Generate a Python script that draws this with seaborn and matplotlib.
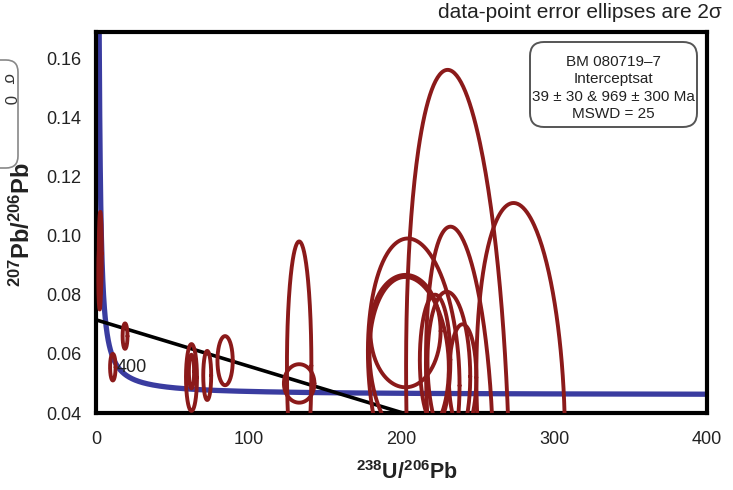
import numpy as np
import pandas as pd
import seaborn as sns
import matplotlib
matplotlib.use("Agg")
import matplotlib.pyplot as plt
from matplotlib.patches import FancyBboxPatch
from matplotlib.ticker import MultipleLocator

# ---------------- data ----------------
# error ellipses (2 sigma): centre, half-axes, correlation
ell_x   = [2.8, 2.4, 11.0, 19.0, 62.5, 62.5, 72.8, 84.5, 133, 133,
           237, 278, 238, 208, 202.6, 205, 231, 222, 240]
ell_y   = [0.094, 0.086, 0.0555, 0.0660, 0.0520, 0.0540, 0.0527, 0.0577, 0.056, 0.050,
           0.030, 0.042, 0.040, 0.055, 0.0677, 0.058, 0.055, 0.058, 0.052]
ell_sx  = [1.0, 0.9, 1.8, 1.6, 3.6, 1.7, 2.6, 5.0, 8, 10,
           34, 29, 22, 30, 23, 26, 14, 10, 9]
ell_sy  = [0.014, 0.011, 0.0045, 0.0043, 0.0113, 0.0057, 0.0083, 0.0083, 0.042, 0.0065,
           0.126, 0.069, 0.063, 0.044, 0.019, 0.028, 0.026, 0.022, 0.018]
ell_rho = [0, 0, 0, 0, 0, 0, 0, 0, 0, 0,
           -0.2, -0.16, -0.27, -0.13, 0, -0.1, -0.1, 0, 0]

# discordia (regression line) end points
disc_x = [0, 201]
disc_y = [0.0715, 0.040]

# concordia: decay constants and ages (Ma)
lam238 = 1.55125e-10
lam235 = 9.8485e-10
u_ratio = 137.88
conc_age_ma = np.geomspace(10, 3500, 600)

x_ticks = [0, 100, 200, 300, 400]
y_ticks = [0.04, 0.06, 0.08, 0.10, 0.12, 0.14, 0.16]

# ---------------- style ----------------
sns.set_style("white")
plt.rcParams['font.family'] = ['Liberation Sans', 'DejaVu Sans']
plt.rcParams['mathtext.fontset'] = 'custom'
plt.rcParams['mathtext.rm'] = 'Liberation Sans'
plt.rcParams['mathtext.bf'] = 'Liberation Sans:bold'

fig = plt.figure(figsize=(7.33, 4.90), dpi=100)
ax = fig.add_axes([0.131, 0.1571, 0.8335, 0.7776])

# concordia
t = conc_age_ma * 1e6
cx = 1.0 / (np.exp(lam238 * t) - 1)
cy = (np.exp(lam235 * t) - 1) / (np.exp(lam238 * t) - 1) / u_ratio
conc = pd.DataFrame({"x": cx, "y": cy})
sns.lineplot(data=conc, x="x", y="y", sort=False, ax=ax, color="#3a3ca0",
             linewidth=3.8, zorder=2, estimator=None)

# discordia
sns.lineplot(x=disc_x, y=disc_y, ax=ax, color="black", linewidth=2.6,
             zorder=3, estimator=None)

# ellipses
tt = np.linspace(0, 2 * np.pi, 300)
for x0, y0, sx, sy, r in zip(ell_x, ell_y, ell_sx, ell_sy, ell_rho):
    ex = x0 + sx * np.cos(tt)
    ey = y0 + sy * (r * np.cos(tt) + np.sqrt(1 - r ** 2) * np.sin(tt))
    ax.plot(ex, ey, color="#8b1a1a", linewidth=2.8, zorder=4)

ax.text(13.8, 0.0553, "400", fontsize=13, va="center", ha="left", color="#222222", zorder=5)

ax.set_xlim(0, 400)
ax.set_ylim(0.04, 0.1688)
ax.set_xticks(x_ticks)
ax.set_yticks(y_ticks)
ax.set_xticklabels([str(v) for v in x_ticks])
ax.set_yticklabels([f"{v:.2f}" for v in y_ticks])
ax.xaxis.set_minor_locator(MultipleLocator(50))
ax.yaxis.set_minor_locator(MultipleLocator(0.01))
ax.tick_params(which="both", direction="in", length=4, width=1.5, color="black",
               labelsize=13, labelcolor="#222222")
ax.tick_params(axis="x", which="major", pad=13)
ax.tick_params(axis="y", which="major", pad=10.5)
ax.set_xlabel("")
ax.set_ylabel("")
for s in ax.spines.values():
    s.set_linewidth(3)
    s.set_color("black")

# axis labels
fig.text(407 / 733, 1 - 473 / 490, r"$\mathbf{^{238}U/^{206}Pb}$", fontsize=15.5,
         ha="center", va="center", color="#222222")
fig.text(22 / 733, 1 - 225 / 490, r"$\mathbf{^{207}Pb/^{206}Pb}$", fontsize=17,
         ha="center", va="center", rotation=90, color="#222222")

# title
fig.text(722 / 733, 1 - 13 / 490, "data-point error ellipses are 2σ", fontsize=15,
         ha="right", va="center", color="#222222")

# info box
box = FancyBboxPatch((5.30, 3.63), 1.67, 0.85, boxstyle="round,pad=0,rounding_size=0.14",
                     transform=fig.dpi_scale_trans, facecolor="white", edgecolor="#555555",
                     linewidth=1.4, zorder=10)
fig.patches.append(box)
fig.text(613 / 733, 1 - 88 / 490,
         "BM 080719–7\nInterceptsat\n39 ± 30 & 969 ± 300 Ma\nMSWD = 25",
         fontsize=11, ha="center", va="center", color="#222222", linespacing=1.3, zorder=11)

# fragment of neighbouring panel box at far left
box2 = FancyBboxPatch((-0.6, 3.22), 0.78, 1.08, boxstyle="round,pad=0,rounding_size=0.12",
                      transform=fig.dpi_scale_trans, facecolor="white", edgecolor="#888888",
                      linewidth=1.2, zorder=1)
fig.patches.append(box2)
fig.text(8 / 733, 1 - 78 / 490, "σ", fontsize=12, rotation=270, ha="center", va="center",
         color="#333333")
fig.text(8 / 733, 1 - 100 / 490, "0", fontsize=12, rotation=270, ha="center", va="center",
         color="#333333")

fig.savefig("out.png", dpi=100)
